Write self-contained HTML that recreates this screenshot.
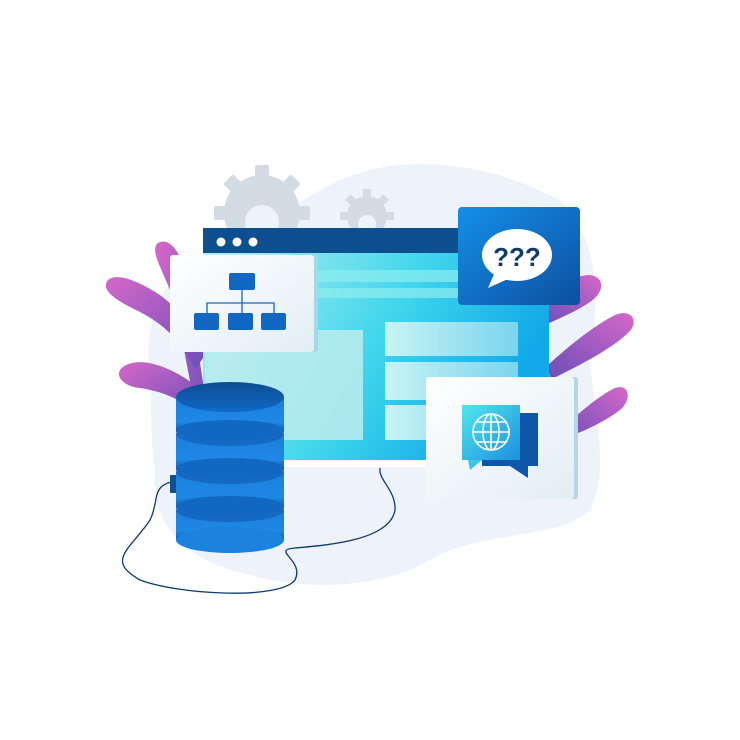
<!DOCTYPE html>
<html><head><meta charset="utf-8"><style>html,body{margin:0;padding:0;background:#fff}svg{display:block}</style></head>
<body>
<svg width="740" height="740" viewBox="0 0 740 740" xmlns="http://www.w3.org/2000/svg">
<defs>
<linearGradient id="leaf" x1="0" y1="0" x2="1" y2="1"><stop offset="0" stop-color="#d667c9"/><stop offset="1" stop-color="#6a4fb8"/></linearGradient>
<linearGradient id="leafr" x1="1" y1="0" x2="0" y2="1"><stop offset="0" stop-color="#d667c9"/><stop offset="1" stop-color="#6a4fb8"/></linearGradient>
<linearGradient id="screen" x1="0" y1="0" x2="1" y2="0.4"><stop offset="0" stop-color="#c8f1ef"/><stop offset="0.6" stop-color="#3fd6ec"/><stop offset="1" stop-color="#12a9e8"/></linearGradient>
<linearGradient id="panel" x1="0" y1="0" x2="1" y2="0"><stop offset="0" stop-color="#c9f3f3"/><stop offset="1" stop-color="#7ad5ef"/></linearGradient>
<linearGradient id="card" x1="0" y1="0" x2="1" y2="1"><stop offset="0" stop-color="#ffffff"/><stop offset="1" stop-color="#e2eef3"/></linearGradient>
<linearGradient id="bluecard" x1="0" y1="0" x2="1" y2="1"><stop offset="0" stop-color="#148fe8"/><stop offset="1" stop-color="#0d4fa0"/></linearGradient>
<linearGradient id="db" x1="0" y1="0" x2="0" y2="1"><stop offset="0" stop-color="#1a7fdc"/><stop offset="0.7" stop-color="#1e88e5"/><stop offset="1" stop-color="#0f5fb5"/></linearGradient>
<linearGradient id="dbtop" x1="0" y1="0" x2="0" y2="1"><stop offset="0" stop-color="#0c4d93"/><stop offset="1" stop-color="#1169c6"/></linearGradient>
<linearGradient id="globe" x1="0" y1="0" x2="1" y2="1"><stop offset="0" stop-color="#52e6ea"/><stop offset="1" stop-color="#1c8fe0"/></linearGradient>
</defs>
<path d="M150 380 C140 300 180 250 250 240 C300 200 340 170 400 165 C470 160 520 180 560 200 C600 240 600 300 590 360 C595 420 610 470 590 510 C560 540 480 530 430 560 C380 590 300 590 250 575 C180 560 150 520 155 470 C150 440 152 410 150 380 Z" fill="#eef2fa"/>
<g fill="#d3dce4">
<circle cx="262" cy="213" r="38"/>
<g transform="translate(262 213)">
<rect x="-7" y="-48" width="14" height="14" rx="2"/><rect x="-7" y="-48" width="14" height="14" rx="2" transform="rotate(45)"/><rect x="-7" y="-48" width="14" height="14" rx="2" transform="rotate(-45)"/><rect x="-7" y="-48" width="14" height="14" rx="2" transform="rotate(90)"/><rect x="-7" y="-48" width="14" height="14" rx="2" transform="rotate(-90)"/>
</g>
<circle cx="367" cy="216" r="20"/>
<g transform="translate(367 216)">
<rect x="-4" y="-27" width="8" height="9"/><rect x="-4" y="-27" width="8" height="9" transform="rotate(45)"/><rect x="-4" y="-27" width="8" height="9" transform="rotate(-45)"/><rect x="-4" y="-27" width="8" height="9" transform="rotate(90)"/><rect x="-4" y="-27" width="8" height="9" transform="rotate(-90)"/>
</g>
</g>
<circle cx="262" cy="222" r="17" fill="#eef2fa"/>
<circle cx="367" cy="224" r="9" fill="#eef2fa"/>
<!-- leaves left -->
<g fill="url(#leaf)">
<path d="M200 430 C185 360 180 320 170 290 C160 265 150 250 158 243 C168 237 180 250 184 270 C192 310 200 360 210 430 Z"/>
<path d="M195 370 C180 340 165 325 140 312 C115 300 100 290 108 280 C118 272 140 282 160 295 C180 310 195 330 205 355 Z"/>
<path d="M200 420 C185 400 165 392 140 388 C120 386 112 372 126 365 C145 356 175 370 195 385 Z"/>
</g>
<!-- leaves right -->
<g fill="url(#leafr)">
<path d="M545 300 C560 285 575 275 590 275 C605 277 605 292 590 302 C575 312 560 318 545 325 Z"/>
<path d="M548 365 C570 345 595 325 615 315 C632 308 640 322 628 333 C610 350 580 365 550 380 Z"/>
<path d="M560 430 C580 412 600 395 615 388 C630 383 632 400 620 410 C600 425 580 432 562 440 Z"/>
</g>
<rect x="203" y="228" width="346" height="238" fill="url(#screen)"/>
<rect x="203" y="460" width="346" height="7" fill="#ffffff"/>
<rect x="203" y="228" width="346" height="25" fill="#0d4f8f"/>
<circle cx="221" cy="242" r="4.5" fill="#fff"/><circle cx="237" cy="242" r="4.5" fill="#fff"/><circle cx="253" cy="242" r="4.5" fill="#fff"/>
<rect x="310" y="270" width="210" height="12" fill="#8deef0" opacity="0.7"/>
<rect x="310" y="288" width="210" height="10" fill="#8deef0" opacity="0.7"/>
<rect x="205" y="330" width="158" height="110" fill="#bcecee" opacity="0.85"/>
<rect x="385" y="322" width="133" height="34" fill="url(#panel)"/>
<rect x="385" y="362" width="133" height="38" fill="url(#panel)"/>
<rect x="385" y="405" width="133" height="35" fill="url(#panel)"/>
<rect x="172" y="255" width="146" height="97" rx="3" fill="#a6d8e8"/>
<rect x="170" y="255" width="144" height="97" rx="3" fill="url(#card)"/>
<g fill="#1167c2">
<rect x="229" y="273" width="26" height="17" rx="2"/>
<rect x="194" y="313" width="25" height="17" rx="2"/>
<rect x="228" y="313" width="25" height="17" rx="2"/>
<rect x="261" y="313" width="25" height="17" rx="2"/>
</g>
<path d="M242 290 V313 M207 313 V303 H274 V313" stroke="#1167c2" stroke-width="1.3" fill="none"/>
<rect x="458" y="207" width="122" height="98" rx="4" fill="url(#bluecard)"/>
<ellipse cx="517" cy="255" rx="35" ry="26" fill="#fff"/>
<path d="M495 272 L488 288 L510 278 Z" fill="#fff"/>
<text x="517" y="266" font-family="Liberation Sans, sans-serif" font-weight="bold" font-size="26" fill="#0d3b70" text-anchor="middle">???</text>
<rect x="428" y="377" width="150" height="122" rx="3" fill="#b5d6e6"/>
<rect x="426" y="377" width="148" height="122" rx="3" fill="url(#card)"/>
<rect x="482" y="413" width="56" height="53" fill="#0d56a8"/>
<path d="M510 466 L528 478 L528 466 Z" fill="#0d56a8"/>
<rect x="462" y="405" width="58" height="55" fill="url(#globe)"/>
<path d="M468 460 L470 470 L482 460 Z" fill="#3cc8e6"/>
<g stroke="#fff" stroke-width="1.6" fill="none">
<circle cx="491" cy="432" r="18"/>
<ellipse cx="491" cy="432" rx="8" ry="18"/>
<path d="M473 432 H509 M476 422 H506 M476 442 H506 M491 414 V450"/>
</g>
<path d="M176 481 C150 485 160 500 150 520 C130 550 105 560 140 580 C180 595 280 600 295 580 C305 560 270 550 295 548 C330 545 390 540 395 510 C396 490 378 480 380 468" stroke="#0f3b6e" stroke-width="1.3" fill="none"/>
<rect x="170" y="475" width="8" height="18" rx="1" fill="#0f4f8f"/>
<g>
<rect x="176" y="510" width="108" height="30" fill="url(#db)"/>
<ellipse cx="230" cy="540" rx="54" ry="13" fill="#1b82dd"/>
<ellipse cx="230" cy="510" rx="54" ry="12" fill="#1569c2"/>
<rect x="176" y="472" width="108" height="36" fill="url(#db)"/>
<ellipse cx="230" cy="506" rx="54" ry="10" fill="#1268c0"/>
<ellipse cx="230" cy="472" rx="54" ry="12" fill="#1569c2"/>
<rect x="176" y="434" width="108" height="36" fill="url(#db)"/>
<ellipse cx="230" cy="468" rx="54" ry="10" fill="#1268c0"/>
<ellipse cx="230" cy="434" rx="54" ry="12" fill="#1569c2"/>
<rect x="176" y="398" width="108" height="34" fill="url(#db)"/>
<ellipse cx="230" cy="430" rx="54" ry="10" fill="#1268c0"/>
<ellipse cx="230" cy="397" rx="54" ry="15" fill="url(#dbtop)"/>
</g>
</svg>
</body></html>
